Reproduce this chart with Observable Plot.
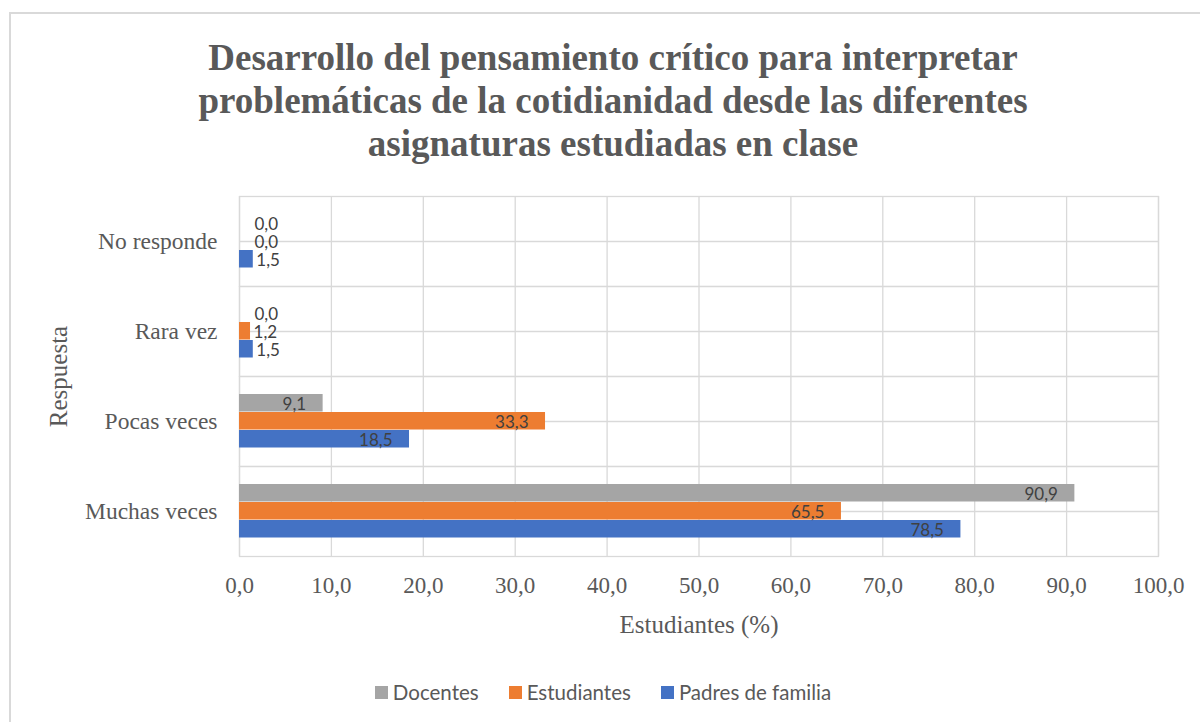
<!DOCTYPE html>
<html>
<head>
<meta charset="utf-8">
<script src="https://cdn.jsdelivr.net/npm/d3@7"></script>
<script src="https://cdn.jsdelivr.net/npm/@observablehq/plot@0.6"></script>
<style>
  html, body { margin: 0; padding: 0; background: #ffffff; }
  body { width: 1200px; height: 722px; overflow: hidden; position: relative; }
  #border { position: absolute; left: 9px; top: 12px; width: 1300px; height: 800px;
            border-left: 2px solid #d9d9d9; border-top: 2px solid #d9d9d9; box-sizing: border-box; }
  #title { position: absolute; left: 0; top: 36px; width: 1226px; text-align: center;
           font-family: "Liberation Serif", "Times New Roman", serif; font-weight: bold;
           font-size: 37px; line-height: 43px; color: #595959; white-space: nowrap; }
  #chart { position: absolute; left: 0; top: 170px; }
  #chart g[aria-label="x-axis label"] { font-size: 25px; }
  #chart g[aria-label="fy-axis label"] { font-size: 25px; }
  #legend { position: absolute; left: 0; top: 680px; width: 1206px; display: flex; justify-content: center;
            font-family: Lato, "Open Sans", sans-serif; font-size: 20.5px; color: #595959; }
  .item { display: flex; align-items: center; margin: 0 15px; }
  .swatch { width: 13px; height: 13px; margin-right: 5px; }
</style>
</head>
<body>
<div id="border"></div>
<div id="title">Desarrollo del pensamiento crítico para interpretar<br>problemáticas de la cotidianidad desde las diferentes<br>asignaturas estudiadas en clase</div>
<div id="chart"></div>
<div id="legend"></div>
<script>
const categories = ["No responde", "Rara vez", "Pocas veces", "Muchas veces"];
const series = ["Docentes", "Estudiantes", "Padres de familia"];
const docentes = [0.0, 0.0, 9.1, 90.9];
const estudiantes = [0.0, 1.2, 33.3, 65.5];
const padres = [1.5, 1.5, 18.5, 78.5];
const colors = ["#A5A5A5", "#ED7D31", "#4472C4"];
const xTicks = [0, 10, 20, 30, 40, 50, 60, 70, 80, 90, 100];

const valuesBySeries = [docentes, estudiantes, padres];
const data = categories.flatMap((c, i) =>
  series.map((s, j) => ({category: c, series: s, value: valuesBySeries[j][i]})));

const fmt = v => v.toFixed(1).replace(".", ",");
const grid = "#d9d9d9";
const labelStyle = {fy: "category", y: "series", x: "value", text: d => fmt(d.value),
  fontFamily: "Lato, 'Open Sans', sans-serif", fontSize: 17, fill: "#404040", dy: 1};

const chart = Plot.plot({
  width: 1200,
  height: 480,
  marginLeft: 239,
  marginRight: 42,
  marginTop: 25,
  marginBottom: 93,
  style: {fontFamily: "'Liberation Serif', 'Times New Roman', serif", color: "#595959", background: "transparent", overflow: "visible"},
  x: {domain: [0, 100]},
  y: {domain: series, paddingInner: 0, paddingOuter: 0.95, axis: null},
  fy: {domain: categories, padding: 0},
  color: {domain: series, range: colors},
  marks: [
    Plot.frame({stroke: grid, strokeWidth: 1.3}),
    Plot.gridX({ticks: xTicks, stroke: grid, strokeOpacity: 1, strokeWidth: 1.3}),
    Plot.ruleY(["Estudiantes"], {stroke: grid, strokeWidth: 1.3}),
    Plot.barX(data, {fy: "category", y: "series", x: "value", fill: "series", insetBottom: 0.5}),
    Plot.text(data.filter(d => d.value >= 5), {...labelStyle, textAnchor: "end", dx: -17}),
    Plot.text(data.filter(d => d.value === 0), {...labelStyle, textAnchor: "start", dx: 15}),
    Plot.text(data.filter(d => d.value > 0 && d.value < 5), {...labelStyle, textAnchor: "start", dx: 3}),
    Plot.axisX({ticks: xTicks, tickFormat: fmt, tickSize: 0, tickPadding: 20, fontSize: 23,
      label: "Estudiantes (%)", labelAnchor: "center", labelOffset: 76, labelArrow: "none"}),
    Plot.axisFy({anchor: "left", tickSize: 0, tickPadding: 22, fontSize: 23.5,
      label: "Respuesta", labelAnchor: "center", labelOffset: 190, labelArrow: "none"})
  ]
});
document.getElementById("chart").appendChild(chart);

const legend = document.getElementById("legend");
series.forEach((s, j) => {
  const item = document.createElement("div");
  item.className = "item";
  const sw = document.createElement("span");
  sw.className = "swatch";
  sw.style.background = colors[j];
  const tx = document.createElement("span");
  tx.textContent = s;
  item.appendChild(sw);
  item.appendChild(tx);
  legend.appendChild(item);
});
</script>
</body>
</html>
